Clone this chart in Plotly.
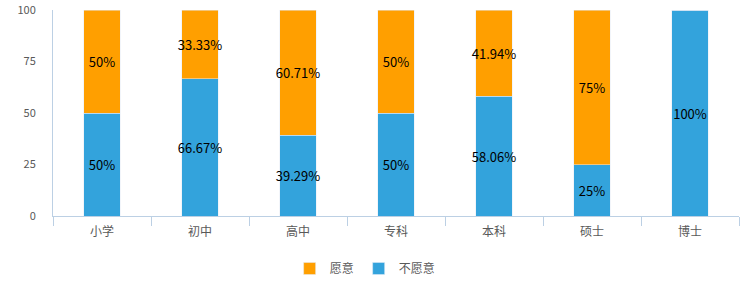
import plotly.graph_objects as go

categories = ["小学", "初中", "高中", "专科", "本科", "硕士", "博士"]
unwilling = [50, 66.67, 39.29, 50, 58.06, 25, 100]
willing = [50, 33.33, 60.71, 50, 41.94, 75, 0]
y_ticks = [0, 25, 50, 75, 100]

BLUE = "#33A3DC"
ORANGE = "#FF9F00"
AXIS = "#BCD0E4"
FONT = "Noto Sans CJK SC"


def fmt(v):
    if v == 0:
        return ""
    s = ("%.2f" % v).rstrip("0").rstrip(".")
    return s + "%"


fig = go.Figure()
fig.add_trace(go.Bar(
    x=categories, y=unwilling, name="不愿意", marker_color=BLUE,
    text=[fmt(v) for v in unwilling], textposition="inside",
    insidetextanchor="middle", textangle=0,
    textfont=dict(size=13, color="#000000", family=FONT),
    width=0.37,
))
fig.add_trace(go.Bar(
    x=categories, y=willing, name="愿意", marker_color=ORANGE,
    text=[fmt(v) for v in willing], textposition="inside",
    insidetextanchor="middle", textangle=0,
    textfont=dict(size=13, color="#000000", family=FONT),
    width=0.37,
))

fig.update_layout(
    barmode="stack",
    width=750, height=300,
    margin=dict(l=53, r=11, t=10, b=84, autoexpand=False),
    paper_bgcolor="white", plot_bgcolor="white",
    font=dict(family=FONT, size=12, color="#595959"),
    uniformtext=dict(minsize=13, mode="show"),
    showlegend=True,
    legend=dict(orientation="h", x=0.455, xanchor="center", y=-0.255, yanchor="middle",
                traceorder="reversed", itemwidth=30,
                font=dict(size=12, color="#595959"), itemclick=False),
    xaxis=dict(
        showline=True, linecolor=AXIS, linewidth=1, automargin=False,
        ticks="outside", tickson="boundaries", ticklen=9, tickcolor=AXIS,
        ticklabelstandoff=5,
        showgrid=False, tickfont=dict(size=12, color="#595959"),
    ),
    yaxis=dict(
        range=[0, 100], tickvals=y_ticks, showline=True, linecolor=AXIS, linewidth=1,
        automargin=False,
        showgrid=False, zeroline=False, ticks="", ticklabelstandoff=14,
        tickfont=dict(size=11, color="#595959"),
    ),
)

fig.write_html("out.html")
